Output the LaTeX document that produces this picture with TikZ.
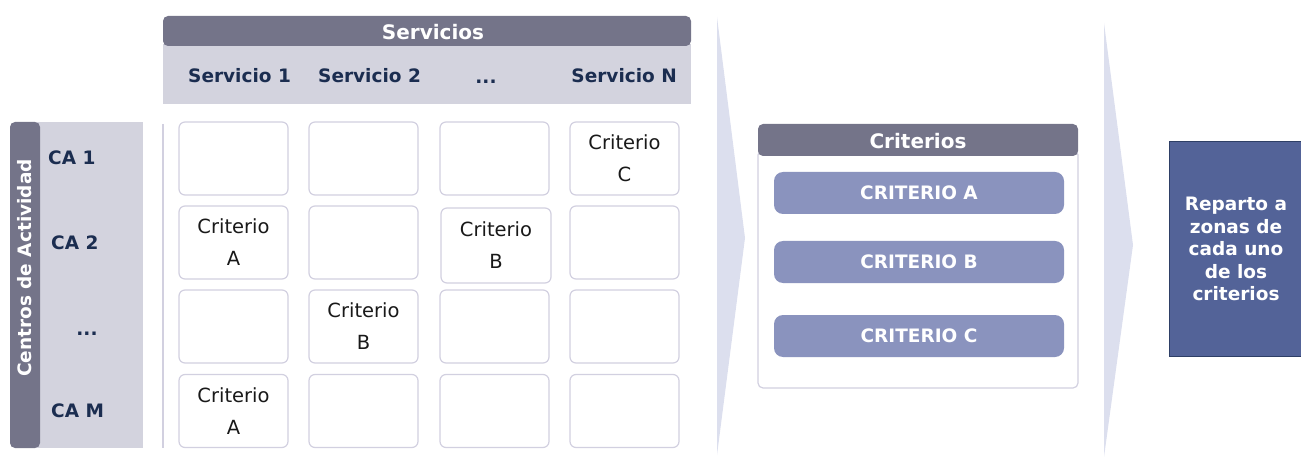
\documentclass[tikz,border=0pt]{standalone}
\usepackage{fontspec}
\setmainfont{DejaVu Sans}
\definecolor{hdr}{HTML}{747489}
\definecolor{lite}{HTML}{D3D3DE}
\definecolor{navy}{HTML}{1B2D50}
\definecolor{cellb}{HTML}{D2D0E0}
\definecolor{chev}{HTML}{DCDFEE}
\definecolor{btn}{HTML}{8A93BE}
\definecolor{rep}{HTML}{536398}
\definecolor{repb}{HTML}{2E3F66}
\begin{document}
\begin{tikzpicture}[x=1pt,y=-1pt,
  lbl/.style={font=\fontsize{18.5}{22}\selectfont\bfseries, text=navy, inner sep=0pt},
  hdrtxt/.style={font=\fontsize{20}{24}\selectfont\bfseries, text=white, inner sep=0pt},
  cell/.style={draw=cellb, line width=1.2pt, rounded corners=6pt, fill=white, minimum width=109pt, minimum height=73pt, inner sep=0pt, align=center, font=\fontsize{19.5}{32}\selectfont, text=black!90},
  crit/.style={fill=btn, rounded corners=9pt, minimum width=290pt, minimum height=42pt, inner sep=0pt, font=\fontsize{18.5}{22}\selectfont\bfseries, text=white}]
\useasboundingbox (0,0) rectangle (1301,457);
% chevrons
\fill[chev] (717,17) -- (745,238) -- (717,455) -- cycle;
\fill[chev] (1104,23) -- (1133,245) -- (1104,457) -- cycle;
% Servicios header
\fill[lite] (163,44) rectangle (691,104);
\fill[hdr, rounded corners=5pt] (163,16) rectangle (691,46);
\node[hdrtxt] (serv) at (433,32) {Servicios};
\node[lbl, anchor=west] (s1) at (188,76) {Servicio 1};
\node[lbl, anchor=west] (s2) at (318,76) {Servicio 2};
\node[lbl, anchor=base] (sd) at (486,84) {...};
\node[lbl, anchor=east] (sn) at (677,76) {Servicio N};
% Centros de actividad
\fill[lite] (36,122) rectangle (143,448);
\fill[hdr, rounded corners=5pt] (10,122) rectangle (40,448);
\node[hdrtxt, font=\fontsize{18.5}{22}\selectfont\bfseries, rotate=90] (cda) at (25,268) {Centros de Actividad};
\node[lbl, anchor=west] (ca1) at (48,158) {CA 1};
\node[lbl, anchor=west] (ca2) at (51,243) {CA 2};
\node[lbl, anchor=base] (cad) at (87,335.5) {...};
\node[lbl, anchor=west] (cam) at (51,411) {CA M};
\draw[cellb, line width=1.2pt] (163,124) -- (163,448);
% grid
\node[cell] (c11) at (233.5,158.5) {};
\node[cell] (c12) at (363.5,158.5) {};
\node[cell] (c13) at (494.5,158.5) {};
\node[cell] (c14) at (624.5,158.5) {Criterio\\C};
\node[cell] (c21) at (233.5,242.5) {Criterio\\A};
\node[cell] (c22) at (363.5,242.5) {};
\node[cell, minimum width=110pt, minimum height=75pt] (c23) at (496,245.5) {Criterio\\B};
\node[cell] (c24) at (624.5,242.5) {};
\node[cell] (c31) at (233.5,326.5) {};
\node[cell] (c32) at (363.5,326.5) {Criterio\\B};
\node[cell] (c33) at (494.5,326.5) {};
\node[cell] (c34) at (624.5,326.5) {};
\node[cell] (c41) at (233.5,411) {Criterio\\A};
\node[cell] (c42) at (363.5,411) {};
\node[cell] (c43) at (494.5,411) {};
\node[cell] (c44) at (624.5,411) {};
% Criterios
\draw[cellb, line width=1.2pt, rounded corners=5pt, fill=white] (758,150) rectangle (1078,388);
\fill[hdr, rounded corners=5pt] (758,124) rectangle (1078,156);
\node[hdrtxt] (crt) at (918,141) {Criterios};
\node[crit] (ca) at (919,193) {CRITERIO A};
\node[crit] (cb) at (919,262) {CRITERIO B};
\node[crit] (cc) at (919,336) {CRITERIO C};
% Reparto
\node[draw=repb, line width=1pt, fill=rep, minimum width=134pt, minimum height=214pt, inner sep=0pt, align=center, text=white, font=\fontsize{18.5}{22.5}\selectfont\bfseries] (rep) at (1236,249) {Reparto a\\zonas de\\cada uno\\de los\\criterios};
\end{tikzpicture}
\end{document}
